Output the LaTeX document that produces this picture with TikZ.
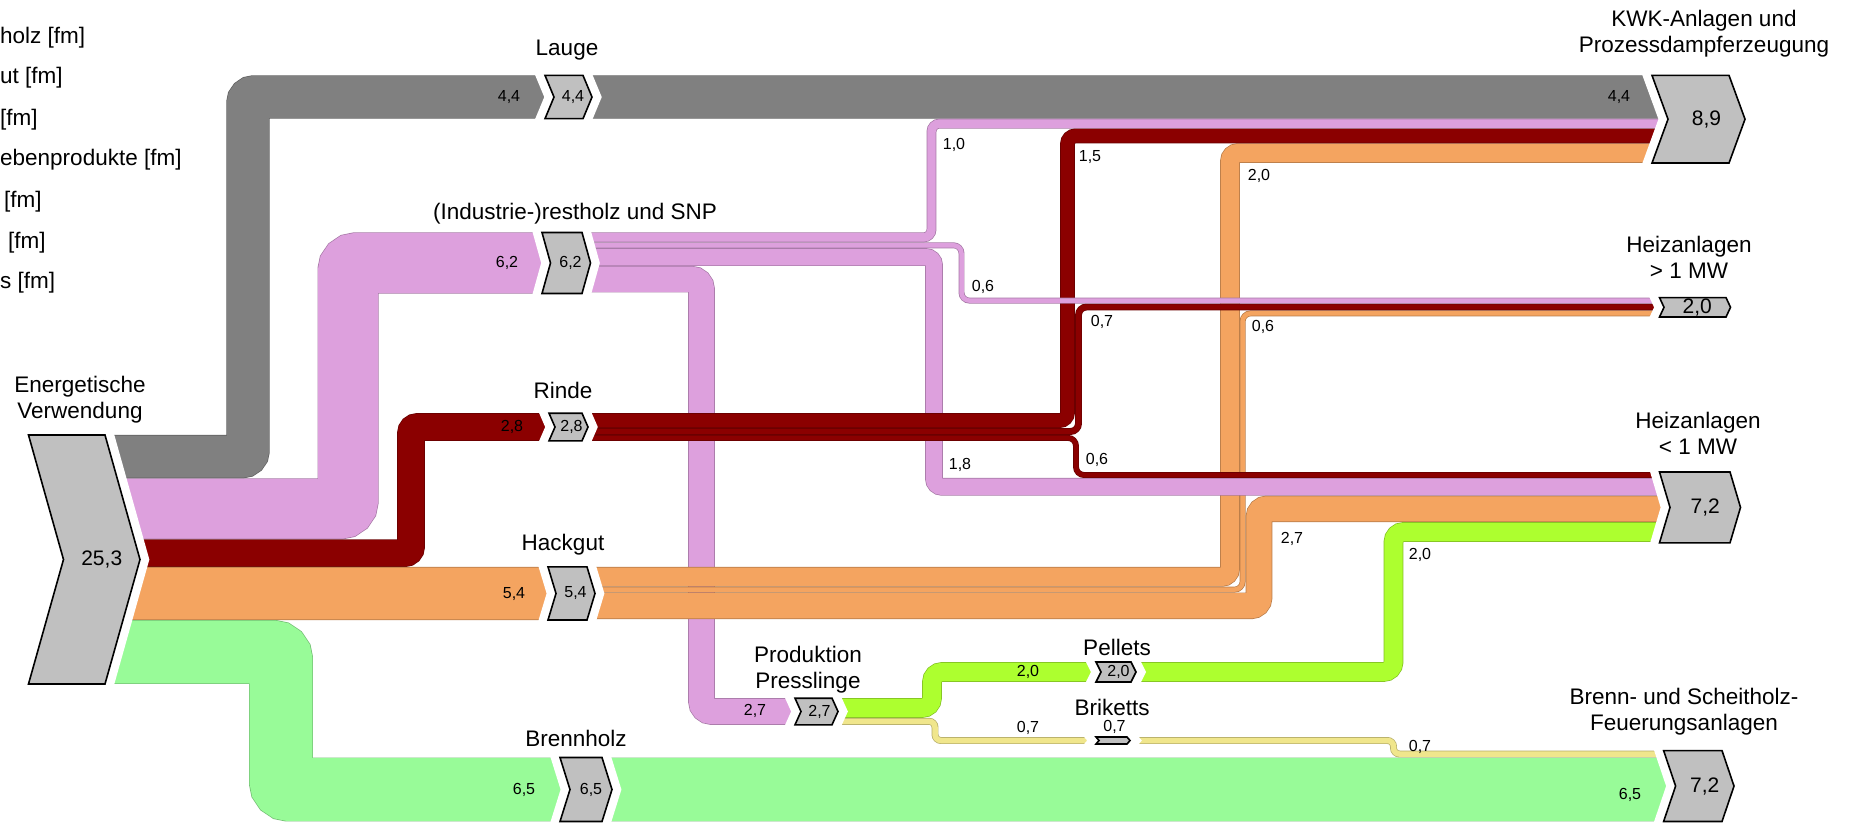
\documentclass[tikz,border=0pt]{standalone}
\usepackage{fontspec}
\setmainfont{Liberation Sans}
\usetikzlibrary{backgrounds}
\definecolor{cgray}{HTML}{808080}
\definecolor{cpink}{HTML}{DDA0DD}
\definecolor{cred}{HTML}{8B0000}
\definecolor{corange}{HTML}{F4A460}
\definecolor{cgreen}{HTML}{98FB98}
\definecolor{cyellowgreen}{HTML}{ADFF2F}
\definecolor{ckhaki}{HTML}{F0E68C}
\definecolor{chevgray}{HTML}{C0C0C0}
\tikzset{
  stream/.style 2 args={draw=#1, line width=#2*9.84pt-1.4pt,
    preaction={draw=#1!75!black, line width=#2*9.84pt}},
  chevbox/.style={fill=chevgray, draw=black, line width=1.6pt,
    preaction={draw=white, line width=18pt}},
  lbl/.style={font=\fontsize{22.5}{26}\selectfont, align=center, inner sep=0pt},
  val/.style={font=\fontsize{16}{18}\selectfont, inner sep=0pt},
  big/.style={font=\fontsize{21}{24}\selectfont, inner sep=0pt},
}
\begin{document}
\begin{tikzpicture}[x=1pt, y=-1pt]
  \useasboundingbox (0,0) rectangle (1852,824);
  % legend, cut off at the left edge
  \foreach \x/\y/\txt [count=\i] in {0/38/holz [fm], 0/78/ut [fm], 0/120/{[fm]},
      0/160/ebenprodukte [fm], 4/202/{[fm]}, 8/243/{[fm]}, 0/283/s [fm]}
    \node[lbl, anchor=west] (leg\i) at (\x,\y) {\txt};
  % source and sinks
  \foreach \nm/\xl/\xr/\dd/\yt/\yb/\val in {src/28.5/105/35/435/684/{25,3},
      kwk/1652/1729/16/75.4/163/{8,9}, gt/1659.5/1726/4.5/297.6/317/{2,0},
      lt/1659.5/1730/10.5/472/542.8/{7,2}, bt/1663.6/1722/12/750.6/821.5/{7,2}} {
    \path[chevbox] (\xl,\yt) -- (\xr,\yt) -- ({\xr+\dd},{(\yt+\yb)/2}) -- (\xr,\yb)
      -- (\xl,\yb) -- ({\xl+\dd},{(\yt+\yb)/2}) -- cycle;
    \node[big] (\nm) at ({(\xl+\xr)/2+\dd},{(\yt+\yb)/2}) {\val};
  }
  % intermediate stages
  \foreach \nm/\xl/\xr/\dd/\yt/\yb/\val/\ys in {lauge/545/583/9/75.4/118.7/{4,4}/0,
      pn/542/582/8.5/232.5/293.5/{6,2}/0, rn/549/582/6/413.2/440.8/{2,8}/0,
      hk/548/587/8/566.9/620/{5,4}/0, bh/560/602/10/757.5/821.5/{6,5}/0,
      pp/795/832/6/698.2/724.8/{2,7}/0, pel/1096/1131/5/662/682/{2,0}/0,
      bri/1096/1127/3/737/744/{0,7}/14} {
    \path[chevbox] (\xl,\yt) -- (\xr,\yt) -- ({\xr+\dd},{(\yt+\yb)/2}) -- (\xr,\yb)
      -- (\xl,\yb) -- ({\xl+\dd},{(\yt+\yb)/2}) -- cycle;
    \node[val, yshift=\ys pt] (\nm) at ({(\xl+\xr)/2+\dd},{(\yt+\yb)/2}) {\val};
  }

  \begin{pgfonlayer}{background}
    % feed of the Presslinge, under Rinde and Hackgut
    \draw[stream={cpink}{2.7}, rounded corners=10pt] (pn |- 0,279.2) -- (701.5,279.2) -- (701.5,711.5) -- (pp |- 0,711.5);
    % out of the source
    \draw[stream={cgray}{4.4}, rounded corners=6pt] (src |- 0,456.6) -- (248,456.6) -- (248,97) -- (lauge) -- (kwk |- 0,97);
    \draw[stream={cpink}{6.2}, rounded corners=8pt] (src |- 0,508.8) -- (348,508.8) -- (348,263) -- (pn);
    \draw[stream={cred}{2.8}, rounded corners=6pt] (src |- 0,553.1) -- (411,553.1) -- (411,427) -- (rn);
    \draw[stream={corange}{5.4}] (src |- 0,593.5) -- (hk);
    \draw[stream={cgreen}{6.5}, rounded corners=8pt] (src |- 0,652) -- (281,652) -- (281,789.5) -- (bh) -- (bt |- 0,789.5);
    % Hackgut
    \draw[stream={corange}{2.0}, rounded corners=8pt] (hk |- 0,576.8) -- (1230,576.8) -- (1230,153.1) -- (kwk |- 0,153.1);
    \draw[stream={corange}{0.6}, rounded corners=8pt] (hk |- 0,589.6) -- (1242.6,589.6) -- (1242.6,313.4) -- (gt |- 0,313.4);
    \draw[stream={corange}{2.7}, rounded corners=8pt] (hk |- 0,605.8) -- (1259,605.8) -- (1259,508.9) -- (lt |- 0,508.9);
    % (Industrie-)restholz
    \draw[stream={cpink}{1.8}, rounded corners=8pt] (pn |- 0,257.1) -- (934,257.1) -- (934,486.8) -- (lt |- 0,486.8);
    \draw[stream={cpink}{1.0}, rounded corners=8pt] (pn |- 0,237.4) -- (931.5,237.4) -- (931.5,123.6) -- (kwk |- 0,123.6);
    % Rinde
    \draw[stream={cred}{1.5}, rounded corners=8pt] (rn |- 0,420.6) -- (1067.5,420.6) -- (1067.5,135.9) -- (kwk |- 0,135.9);
    \draw[stream={cred}{0.7}, rounded corners=8pt] (rn |- 0,431.5) -- (1078.5,431.5) -- (1078.5,307) -- (gt |- 0,307);
    \draw[stream={cred}{0.6}, rounded corners=8pt] (rn |- 0,437.9) -- (1076,437.9) -- (1076,475) -- (lt |- 0,475);
    \draw[stream={cpink}{0.6}, rounded corners=8pt] (pn |- 0,245.3) -- (961.5,245.3) -- (961.5,300.6) -- (gt |- 0,300.6);
    % Presslinge
    \draw[stream={cyellowgreen}{2.0}, rounded corners=10pt] (pp |- 0,708) -- (932,708) -- (932,672) -- (pel) -- (1393.5,672) -- (1393.5,532) -- (lt |- 0,532);
    \draw[stream={ckhaki}{0.7}, rounded corners=6pt] (pp |- 0,721.3) -- (935,721.3) -- (935,740.5) -- (bri |- 0,740.5) -- (1393.5,740.5) -- (1393.5,754) -- (bt |- 0,754);
  \end{pgfonlayer}

  % names
  \node[lbl] (src-l) at (80,400) {Energetische\\Verwendung};
  \node[lbl] (lauge-l) at (567,50) {Lauge};
  \node[lbl] (pn-l) at (575,214) {(Industrie-)restholz und SNP};
  \node[lbl] (rn-l) at (563,390) {Rinde};
  \node[lbl] (hk-l) at (563,545) {Hackgut};
  \node[lbl] (bh-l) at (576,738) {Brennholz};
  \node[lbl] (pp-l) at (808,670) {Produktion\\Presslinge};
  \node[lbl] (pel-l) at (1117,647) {Pellets};
  \node[lbl] (bri-l) at (1112,707) {Briketts};
  \node[lbl] (kwk-l) at (1704,34) {KWK-Anlagen und\\Prozessdampferzeugung};
  \node[lbl] (gt-l) at (1689,257) {Heizanlagen\\> 1 MW};
  \node[lbl] (lt-l) at (1698,433) {Heizanlagen\\< 1 MW};
  \node[lbl] (bt-l) at (1684,712) {Brenn- und Scheitholz-\\Feuerungsanlagen};
  % values on the streams
  \node[val] (v-lauge) at (509,97) {4,4};
  \node[val] (v-pn) at (507,263) {6,2};
  \node[val] (v-rn) at (512,427) {2,8};
  \node[val] (v-hk) at (514,594) {5,4};
  \node[val] (v-bh) at (524,790) {6,5};
  \node[val] (v-pp) at (755,711) {2,7};
  \node[val] (v-pel) at (1028,672) {2,0};
  \node[val] (v-bri) at (1028,728) {0,7};
  \node[val] (v-kwk) at (1619,97) {4,4};
  \node[val] (v-bt) at (1630,795) {6,5};
  \node[val] (v-pn1) at (954,145) {1,0};
  \node[val] (v-rn1) at (1090,157) {1,5};
  \node[val] (v-hk1) at (1259,176) {2,0};
  \node[val] (v-pn2) at (983,287) {0,6};
  \node[val] (v-rn2) at (1102,322) {0,7};
  \node[val] (v-hk2) at (1263,327) {0,6};
  \node[val] (v-pn3) at (960,465) {1,8};
  \node[val] (v-rn3) at (1097,460) {0,6};
  \node[val] (v-hk3) at (1292,539) {2,7};
  \node[val] (v-pel1) at (1420,555) {2,0};
  \node[val] (v-bri1) at (1420,747) {0,7};
\end{tikzpicture}
\end{document}
